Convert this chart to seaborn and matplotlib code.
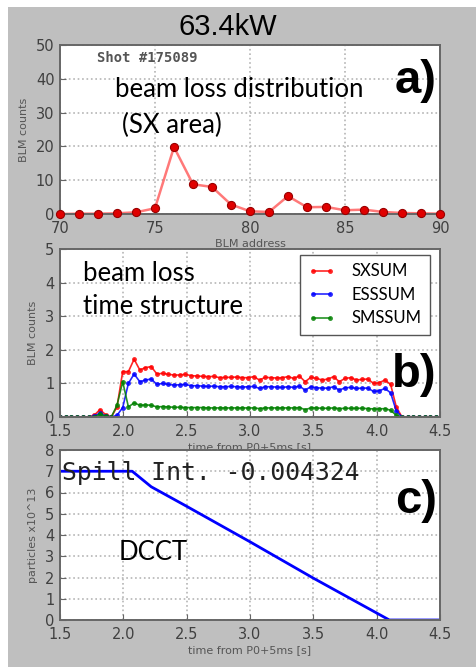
import numpy as np
import matplotlib
matplotlib.use("Agg")
import matplotlib.pyplot as plt
from matplotlib.patches import Rectangle
import seaborn as sns

# ---------------- data ----------------
blm_address = [70, 71, 72, 73, 74, 75, 76, 77, 78, 79, 80, 81, 82, 83, 84, 85, 86, 87, 88, 89, 90]
blm_counts = [0.0, 0.1, 0.1, 0.2, 0.5, 1.7, 19.8, 8.8, 8.0, 2.8, 0.8, 0.6, 5.3, 2.0, 2.1, 1.1, 1.3, 0.6, 0.3, 0.2, 0.1]

time_b = np.round(1.5 + 0.045 * np.arange(67), 3)
sxsum = [0, 0, 0, 0, 0, 0, 0.05, 0.22, 0.07, 0.0, 0.30, 1.35, 1.35, 1.72, 1.40, 1.47, 1.50, 1.28,
         1.30, 1.27, 1.25, 1.25, 1.27, 1.23, 1.22, 1.21, 1.20, 1.21, 1.17, 1.18, 1.18, 1.19, 1.17,
         1.17, 1.20, 1.10, 1.18, 1.17, 1.16, 1.17, 1.20, 1.15, 1.22, 1.05, 1.18, 1.15, 1.10, 1.13,
         1.20, 1.05, 1.15, 1.17, 1.10, 1.12, 1.13, 1.00, 1.02, 1.10, 0.97, 0.30, 0.0,
         0, 0, 0, 0, 0, 0]
esssum = [0, 0, 0, 0, 0, 0, 0.02, 0.12, 0.03, 0.0, 0.05, 0.28, 1.00, 1.28, 1.05, 1.10, 1.13, 0.97,
          1.00, 0.97, 0.95, 0.96, 0.97, 0.93, 0.93, 0.92, 0.91, 0.92, 0.90, 0.90, 0.91, 0.90, 0.89,
          0.90, 0.91, 0.85, 0.90, 0.90, 0.89, 0.88, 0.90, 0.88, 0.92, 0.80, 0.90, 0.87, 0.86, 0.86,
          0.90, 0.80, 0.87, 0.88, 0.85, 0.86, 0.86, 0.76, 0.78, 0.85, 0.72, 0.18, 0.0,
          0, 0, 0, 0, 0, 0]
smssum = [0, 0, 0, 0, 0, 0, 0.0, 0.08, 0.02, 0.0, 0.35, 1.05, 0.30, 0.42, 0.35, 0.36, 0.35, 0.30,
          0.31, 0.30, 0.29, 0.29, 0.28, 0.28, 0.28, 0.28, 0.27, 0.27, 0.27, 0.27, 0.27, 0.27, 0.27,
          0.27, 0.27, 0.25, 0.27, 0.27, 0.27, 0.27, 0.27, 0.27, 0.28, 0.22, 0.27, 0.27, 0.26, 0.26,
          0.27, 0.25, 0.26, 0.26, 0.26, 0.26, 0.25, 0.24, 0.24, 0.25, 0.20, 0.05, 0.0,
          0, 0, 0, 0, 0, 0]

dcct_t = [1.5, 2.07, 2.22, 2.5, 3.0, 3.5, 4.1, 4.5]
dcct_v = [7.0, 7.0, 6.27, 5.35, 3.68, 1.97, 0.0, 0.0]

# ---------------- figure ----------------
W, H = 476, 667
fig = plt.figure(figsize=(W / 100, H / 100), dpi=100)
fig.patch.set_facecolor("white")
fig.patches.append(Rectangle((8 / W, 0), 1, 1 - 7 / H, transform=fig.transFigure,
                             facecolor="#bfbfbf", edgecolor="none", zorder=-10))

def fx(px):
    return px / W

def fy(py):
    return 1 - py / H

left, right = 60, 440
ax_a = fig.add_axes([fx(left), fy(214), fx(right - left), (214 - 45) / H])
ax_b = fig.add_axes([fx(left), fy(417), fx(right - left), (417 - 249) / H])
ax_c = fig.add_axes([fx(left), fy(620), fx(right - left), (620 - 450) / H])

TICK_COLOR = "#404040"
LABEL_COLOR = "#555555"

def style(ax):
    ax.set_facecolor("white")
    for s in ax.spines.values():
        s.set_color("#666666")
        s.set_linewidth(1.4)
    ax.grid(True, linestyle=":", color="#b5b5b5", linewidth=1.2)
    ax.set_axisbelow(True)
    ax.tick_params(direction="in", length=4, color="#666666", labelsize=10.5,
                   labelcolor=TICK_COLOR, pad=4)
    ax.tick_params(axis="x", pad=5)
    for lab in ax.get_xticklabels() + ax.get_yticklabels():
        lab.set_fontfamily("DejaVu Sans")

# ---- panel a ----
sns.lineplot(x=blm_address, y=blm_counts, ax=ax_a, color="#ff4040", alpha=0.7, linewidth=1.8)
sns.scatterplot(x=blm_address, y=blm_counts, ax=ax_a, color="#e00000", edgecolor="#990000",
                s=34, linewidth=0.8, zorder=5, clip_on=False)
ax_a.set_xlim(70, 90)
ax_a.set_ylim(0, 50)
ax_a.set_xticks([70, 75, 80, 85, 90])
ax_a.set_yticks([0, 10, 20, 30, 40, 50])
ax_a.set_xlabel("BLM address", fontsize=8, color=LABEL_COLOR, labelpad=2)
ax_a.set_ylabel("BLM counts", fontsize=8, color=LABEL_COLOR, labelpad=5)
style(ax_a)

# ---- panel b ----
for vals, col, lab in [(sxsum, "#ff0000", "SXSUM"), (esssum, "#0000ff", "ESSSUM"),
                       (smssum, "#008000", "SMSSUM")]:
    sns.lineplot(x=time_b, y=vals, ax=ax_b, color=col, alpha=0.85, linewidth=1.2,
                 marker="o", markersize=3.5, markeredgewidth=0, label=lab)
ax_b.set_xlim(1.5, 4.5)
ax_b.set_ylim(0, 5)
ax_b.set_xticks([1.5, 2.0, 2.5, 3.0, 3.5, 4.0, 4.5])
ax_b.set_xticklabels(["1.5", "2.0", "2.5", "3.0", "3.5", "4.0", "4.5"])
ax_b.set_yticks([0, 1, 2, 3, 4, 5])
ax_b.set_xlabel("time from P0+5ms [s]", fontsize=8, color=LABEL_COLOR, labelpad=2)
ax_b.set_ylabel("BLM counts", fontsize=8, color=LABEL_COLOR, labelpad=5)
leg = ax_b.legend(loc="upper right", bbox_to_anchor=(0.974, 0.964), borderaxespad=0,
                  numpoints=2, fancybox=False, framealpha=1, edgecolor="#555555",
                  prop={"family": "Lato", "size": 12}, handlelength=1.6,
                  handletextpad=1.0, labelspacing=0.45, borderpad=0.5)
leg.get_frame().set_linewidth(1.0)
style(ax_b)

# ---- panel c ----
sns.lineplot(x=dcct_t, y=dcct_v, ax=ax_c, color="#0000ff", linewidth=2.0)
ax_c.set_xlim(1.5, 4.5)
ax_c.set_ylim(0, 8)
ax_c.set_xticks([1.5, 2.0, 2.5, 3.0, 3.5, 4.0, 4.5])
ax_c.set_xticklabels(["1.5", "2.0", "2.5", "3.0", "3.5", "4.0", "4.5"])
ax_c.set_yticks(range(0, 9))
ax_c.set_xlabel("time from P0+5ms [s]", fontsize=8, color=LABEL_COLOR, labelpad=2)
ax_c.set_ylabel("particles x10^13", fontsize=8, color=LABEL_COLOR, labelpad=5)
style(ax_c)

# ---- texts ----
fig.text(fx(227.5), fy(35), "63.4kW", ha="center", va="baseline",
         fontsize=21, family="Liberation Sans", color="black")

ax_a.text(0.097, 0.899, "Shot #175089", transform=ax_a.transAxes, ha="left", va="baseline",
          fontsize=10, family="DejaVu Sans Mono", weight="bold", color="#555555")
ax_a.text(0.145, 0.694, "beam loss distribution", transform=ax_a.transAxes, ha="left",
          va="baseline", fontsize=18.5, family="Lato", color="black")
ax_a.text(0.162, 0.479, "(SX area)", transform=ax_a.transAxes, ha="left",
          va="baseline", fontsize=18.5, family="Lato", color="black")
ax_a.text(0.992, 0.716, "a)", transform=ax_a.transAxes, ha="right", va="baseline",
          fontsize=34, family="Liberation Sans", weight="bold", color="black")

ax_b.text(0.061, 0.811, "beam loss", transform=ax_b.transAxes, ha="left", va="baseline",
          fontsize=18.5, family="Lato", color="black")
ax_b.text(0.061, 0.613, "time structure", transform=ax_b.transAxes, ha="left", va="baseline",
          fontsize=18.5, family="Lato", color="black")
ax_b.text(0.992, 0.179, "b)", transform=ax_b.transAxes, ha="right", va="baseline",
          fontsize=34, family="Liberation Sans", weight="bold", color="black")

ax_c.text(0.004, 0.824, "Spill Int. -0.004324", transform=ax_c.transAxes, ha="left",
          va="baseline", fontsize=17.8, family="DejaVu Sans Mono", color="#222222")
ax_c.text(0.153, 0.353, "DCCT", transform=ax_c.transAxes, ha="left", va="baseline",
          fontsize=18.5, family="Lato", color="black")
ax_c.text(0.992, 0.63, "c)", transform=ax_c.transAxes, ha="right", va="baseline",
          fontsize=34, family="Liberation Sans", weight="bold", color="black")

fig.savefig("out.png", dpi=100, facecolor=fig.get_facecolor())
